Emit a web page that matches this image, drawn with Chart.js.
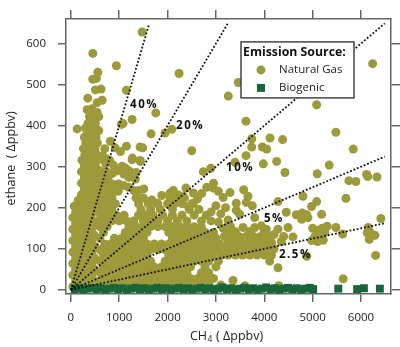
<!DOCTYPE html>
<html><head><meta charset="utf-8">
<script src="https://cdn.jsdelivr.net/npm/chart.js@4.4.1/dist/chart.umd.min.js"></script>
<style>html,body{margin:0;padding:0;background:#fff;}canvas{display:block;}</style>
</head><body>
<canvas id="c" width="400" height="347"></canvas>
<script>
// ---------------- data ----------------
const xTickValues = [0, 1000, 2000, 3000, 4000, 5000, 6000];
const yTickValues = [0, 100, 200, 300, 400, 500, 600];

const seriesNames = ['Natural Gas', 'Biogenic'];

// Natural gas: dense column near the origin
const ngColumn = [
[40,8],[170,8],[300,8],[430,8],[100,22],[230,22],[360,22],[490,22],
[40,36],[170,36],[300,36],[430,36],[100,50],[230,50],[360,50],[490,50],
[40,64],[170,64],[300,64],[430,64],[100,78],[230,78],[360,78],[490,78],
[40,92],[170,92],[300,92],[430,92],[100,106],[230,106],[360,106],[490,106],
[40,120],[170,120],[300,120],[430,120],[100,134],[230,134],[360,134],[480,134],
[40,148],[170,148],[300,148],[430,148],[100,162],[230,162],[360,162],[470,162],
[40,176],[170,176],[300,176],[420,176],[100,190],[230,190],[360,190],[470,190],
[70,204],[180,204],[300,204],[420,204],[150,218],[260,218],[380,218],[490,218],
[220,232],[340,232],[460,232],[280,246],[400,246],[510,246],
[220,260],[340,260],[460,260],[280,274],[400,274],[500,274],
[220,288],[340,288],[460,288],[280,302],[400,302],[510,302],
[230,316],[350,316],[470,316],[290,330],[410,330],[530,330],
[260,344],[380,344],[500,344],[310,358],[430,358],[550,358],
[280,372],[400,372],[520,372],[350,384],[470,384]
];
// Natural gas: scattered high-ethane points
const ngUpper = [
[454,576],[942,546],[558,530],[454,513],[529,515],[509,487],[626,489],[1149,486],[351,467],
[543,456],[647,462],[337,439],[440,441],[543,432],[496,419],[578,422],[385,422],[130,392],
[357,406],[509,406],[302,394],[440,392],[578,388],[1046,403],[1080,405],[1267,415],[1473,628],
[1756,431],[1659,380],[1948,382],[2087,391],[2238,527],[2500,339],[818,362],[702,344],[1149,350],
[1432,348],[1487,346],[1025,337],[1275,321],[743,319],[915,346],[1122,297],[1211,289],[1349,286],[1432,315]
];
// Natural gas: middle wedge
const ngMid = [
[560,168],[700,168],[850,168],[1000,168],[1150,168],[1300,168],[1500,168],[1650,168],[1800,168],[2000,168],[2200,168],[2400,168],[2700,168],[2900,168],
[620,182],[780,182],[950,182],[1100,182],[1400,182],[1550,182],[1700,182],[1900,182],[2100,182],[2300,182],[2550,182],[2800,182],
[560,196],[700,196],[850,196],[1450,196],[1650,196],[1850,196],[2100,196],[2450,196],[2650,196],
[620,210],[760,210],[920,210],[1400,210],[1600,210],[1800,210],[2000,210],[2150,210],[2300,210],[2500,210],
[600,224],[700,224],[850,224],[1350,224],[1500,224],[2050,224],[2200,224],[2350,224],
[682,254],[750,250],[818,242],[888,239],[992,258],[1095,254],[1198,250],[1302,242],[1405,242],[1508,246],
[1060,301],[1163,293],[1095,282],[1198,274],[1335,270],[1267,317],[1438,313],[620,290],[800,280],[700,270],
[580,318],[660,326],[720,308],[800,316],[880,304],[580,278],[660,282],[740,288],[860,284],[950,290],
[620,262],[700,248],[800,262],[900,256],[980,240],[560,250],[640,238],[560,232],[660,212],[780,234],
[2120,242],[2052,236],[2223,231],[2533,236],[2707,235],[2810,250],[2946,248],[2740,288],[2893,296],
[2155,220],[2326,227],[1673,219],[1777,211],[2533,211],[2430,203],[1880,230],[2380,248],[2620,222],
[2950,260],[3050,240],[3150,225],[3000,205],[3200,200],[3100,185],[2900,190],[3250,170],[3050,165],[3150,150],[3300,155]
];
// Natural gas: low-ratio band
const ngBand = [
[600,14],[750,14],[900,14],[1050,14],[1200,14],[1350,14],[1500,14],[1650,14],[1800,14],[1950,14],[2100,14],[2250,14],[2400,14],[2550,14],[2700,14],[2850,14],
[675,28],[825,28],[975,28],[1125,28],[1275,28],[1425,28],[1575,28],[1725,28],[1875,28],[2025,28],[2175,28],[2325,28],[2475,28],[2625,28],[2775,28],[2950,28],
[600,42],[750,42],[900,42],[1050,42],[1200,42],[1350,42],[1500,42],[1650,42],[1800,42],[1950,42],[2100,42],[2250,42],[2400,42],[2700,42],[2850,42],
[675,56],[825,56],[975,56],[1125,56],[1275,56],[1425,56],[1575,56],[1725,56],[1875,56],[2025,56],[2175,56],[2325,56],[2475,56],[2775,56],[3000,56],
[600,70],[750,70],[900,70],[1050,70],[1200,70],[1350,70],[1500,70],[1650,70],[1950,70],[2100,70],[2250,70],[2400,70],[2550,70],[2700,70],[2850,70],[3050,70],
[675,84],[825,84],[975,84],[1125,84],[1275,84],[1425,84],[1575,84],[2025,84],[2175,84],[2325,84],[2475,84],[2625,84],[2775,84],[2925,84],[3100,84],
[600,98],[750,98],[900,98],[1050,98],[1200,98],[1350,98],[1500,98],[1650,98],[1800,98],[1950,98],[2100,98],[2250,98],[2400,98],[2550,98],[2700,98],[2850,98],[3000,98],[3150,98],
[700,112],[825,112],[975,112],[1125,112],[1275,112],[1425,112],[1575,112],[1725,112],[1875,112],[2025,112],[2175,112],[2325,112],[2475,112],[2625,112],[2775,112],[2925,112],[3075,112],
[600,126],[900,126],[1050,126],[1200,126],[1350,126],[1500,126],[2100,126],[2250,126],[2400,126],[2550,126],[2700,126],[2850,126],[3000,126],
[675,140],[1125,140],[1275,140],[1425,140],[1575,140],[2025,140],[2175,140],[2325,140],[2475,140],[2625,140],[2775,140],[2950,140],
[600,154],[750,154],[1200,154],[1350,154],[1500,154],[1650,154],[1800,154],[1950,154],[2100,154],[2250,154],[2400,154],[2550,154],[2700,154]
];
// Natural gas: high-methane points
const ngRight = [
[3250,85],[3400,85],[3550,85],[3700,85],[3850,85],[4000,85],[4150,85],
[3175,100],[3325,100],[3475,100],[3625,100],[3775,100],[3925,100],[4075,100],[4200,100],
[3250,115],[3400,115],[3550,115],[3700,115],[3850,115],[4000,115],[4150,115],
[3175,130],[3325,130],[3475,130],[3625,130],[3775,130],[3925,130],[4075,130],
[3250,142],[3400,142],[3700,142],[4000,142],
[3463,505],[3256,472],[6240,551],[5083,451],[3622,411],[5481,384],[3740,368],[4118,370],[4380,366],
[3740,348],[3960,348],[4050,343],[5840,343],[3622,327],[3395,311],[3980,307],[4256,313],[5343,304],
[4428,286],[5095,283],[6116,281],[6140,276],[6330,275],[5750,266],[5894,264],[5688,223],[4979,203],
[5083,215],[5186,184],[6411,174],[5481,152],[5620,136],[6128,139],[6170,123],[6287,133],[6302,84],
[5632,27],[5219,121],[3574,244],[3663,228],[3421,211],[3628,213],[3752,205],[4283,215],[4800,228],
[4455,189],[4661,183],[4785,187],[4903,176],[3421,194],[3491,184],[3802,176],[3560,152],[3802,152],
[3938,156],[4041,148],[4283,148],[4490,152],[4593,129],[4112,70],[4283,54],[3353,23],[3291,237],
[4876,183],[4773,172],[4876,82],[6149,152],[6184,141],[5000,150],[5100,145],[5200,150],[5050,130],
[5150,128],[5250,140],[4980,120],[5100,118],[5300,155],[4200,135],[4400,130],[4350,118],
[3100,12],[3600,10],[4300,10]
];
// Biogenic
const biogenic = [
[80,2],[170,4],[260,1],[350,3],[440,5],[530,2],[620,4],[710,1],[800,3],[890,5],[980,2],[1070,4],
[1160,1],[1250,3],[1340,5],[1430,2],[1520,4],[1610,1],[1700,3],[1790,5],[1880,2],[1970,4],[2060,1],
[2150,3],[2240,5],[2330,2],[2420,4],[2510,1],[2600,3],[2690,5],[2780,2],[2870,4],[2960,1],[3050,3],
[3140,6],[3230,2],[3320,4],[3410,1],[3500,3],[3590,5],[3680,2],[3770,4],[3860,1],[3950,3],[4040,6],
[4130,2],[4220,4],[4310,1],[4400,3],[4490,5],[4580,2],[4670,4],[4760,1],[4850,3],[4940,5],[5010,2],
[5530,3],[5920,2],[6060,4],[6390,3]
];

// ethane / methane guide ratios
const guideRatios = [0.4, 0.2, 0.1, 0.05, 0.025];
const guideEndX = [1620, 3240, 6490, 6490, 6490];
const guideLabels = ['40%', '20%', '10%', '5%', '2.5%'];
const guideLabelAnchors = [[1225,452],[2176,401],[3210,298],[3994,174],[4304,86]];

// ---------------- chart ----------------
const OLIVE = '#9d9a3b';
const GREEN = '#18673a';
const AXIS = '#666';
const FONT = '"Open Sans", "Noto Sans", sans-serif';

const toPts = arr => arr.map(([x, y]) => ({x, y}));
const naturalGas = toPts([...ngColumn, ...ngUpper, ...ngMid, ...ngBand, ...ngRight]);

const guideSets = guideRatios.map((r, i) => ({
  label: guideLabels[i],
  data: [{x: 0, y: 0}, {x: guideEndX[i], y: guideEndX[i] * r}],
  showLine: true, fill: false, pointRadius: 0,
  borderColor: '#111', borderWidth: 1.8, borderDash: [1.8, 1.9],
  order: 0, xAxisID: 'x', yAxisID: 'y'
}));

const overlay = {
  id: 'overlay',
  afterDraw(chart) {
    const {ctx, chartArea: a, scales: {x, y}} = chart;
    ctx.save();
    ctx.font = 'bold 11.5px ' + FONT;
    ctx.fillStyle = '#111';
    ctx.textBaseline = 'middle';
    ctx.textAlign = 'left';
    try { ctx.letterSpacing = '1.5px'; } catch (e) {}
    guideLabels.forEach((t, i) => {
      ctx.fillText(t, x.getPixelForValue(guideLabelAnchors[i][0]), y.getPixelForValue(guideLabelAnchors[i][1]));
    });
    try { ctx.letterSpacing = '0px'; } catch (e) {}
    // legend
    const lx = a.left + 175, ly = a.top + 23, lw = 113, lh = 56;
    ctx.fillStyle = '#fff';
    ctx.fillRect(lx, ly, lw, lh);
    ctx.strokeStyle = '#444';
    ctx.lineWidth = 1.5;
    ctx.strokeRect(lx, ly, lw, lh);
    ctx.fillStyle = '#111';
    ctx.font = 'bold 12.3px ' + FONT;
    ctx.fillText('Emission Source:', lx + 2, ly + 11);
    ctx.font = '11.5px ' + FONT;
    ctx.fillStyle = OLIVE;
    ctx.beginPath(); ctx.arc(lx + 20, ly + 28, 4.5, 0, Math.PI * 2); ctx.fill();
    ctx.fillStyle = GREEN;
    ctx.fillRect(lx + 16, ly + 42, 8, 8);
    ctx.fillStyle = '#222';
    ctx.fillText(seriesNames[0], lx + 38, ly + 28);
    ctx.fillText(seriesNames[1], lx + 38, ly + 46);
    // y title
    ctx.save();
    ctx.translate(11, (a.top + a.bottom) / 2 + 2);
    ctx.rotate(-Math.PI / 2);
    ctx.textAlign = 'center';
    ctx.font = '12.5px ' + FONT;
    ctx.fillText('ethane  ( \u0394ppbv)', 0, 0);
    ctx.restore();
    // x title with subscript
    ctx.font = '12.5px ' + FONT;
    const p1 = 'CH', p3 = ' ( \u0394ppbv)';
    const w1 = ctx.measureText(p1).width, w3 = ctx.measureText(p3).width;
    ctx.font = '8.5px ' + FONT;
    const w2 = ctx.measureText('4').width + 1;
    const tot = w1 + w2 + w3;
    let cx = (a.left + a.right) / 2 - tot / 2 - 2;
    const cy = 336;
    ctx.textAlign = 'left';
    ctx.font = '12.5px ' + FONT;
    ctx.fillText(p1, cx, cy);
    ctx.font = '8.5px ' + FONT;
    ctx.fillText('4', cx + w1 + 0.5, cy + 4);
    ctx.font = '12.5px ' + FONT;
    ctx.fillText(p3, cx + w1 + w2, cy);
    ctx.restore();
  }
};

const axisCommon = (pos) => ({
  type: 'linear',
  position: pos,
  grid: {drawOnChartArea: false, drawTicks: true, tickLength: 8, color: AXIS, lineWidth: 1.5},
  border: {display: true, color: AXIS, width: 1.5}
});
const plain = v => String(v);

new Chart(document.getElementById('c'), {
  type: 'scatter',
  data: {
    datasets: [
      ...guideSets,
      {label: seriesNames[1], data: toPts(biogenic), pointStyle: 'rect', pointRadius: 5.6, pointHoverRadius: 5.6,
       backgroundColor: GREEN, borderColor: GREEN, pointBorderWidth: 0, order: 1, xAxisID: 'x', yAxisID: 'y'},
      {label: seriesNames[0], data: naturalGas, pointStyle: 'circle', pointRadius: 4.5, pointHoverRadius: 4.5,
       backgroundColor: OLIVE, borderColor: OLIVE, pointBorderWidth: 0, order: 2, xAxisID: 'x', yAxisID: 'y'}
    ]
  },
  options: {
    responsive: false, animation: false, events: [],
    layout: {padding: 0},
    plugins: {legend: {display: false}, tooltip: {enabled: false}},
    scales: {
      x: Object.assign(axisCommon('bottom'), {
        min: -100, max: 6620,
        afterBuildTicks: s => { s.ticks = xTickValues.map(v => ({value: v})); },
        afterFit: s => { s.height = 53; },
        ticks: {font: {family: FONT, size: 11.5}, color: '#222', padding: 9, maxRotation: 0, autoSkip: false, callback: plain}
      }),
      y: Object.assign(axisCommon('left'), {
        min: -10, max: 660,
        afterBuildTicks: s => { s.ticks = yTickValues.map(v => ({value: v})); },
        afterFit: s => { s.width = 66; },
        ticks: {font: {family: FONT, size: 11.5}, color: '#222', padding: 12, autoSkip: false, callback: plain}
      }),
      x2: Object.assign(axisCommon('top'), {
        min: -100, max: 6620,
        grid: {drawOnChartArea: false, drawTicks: true, tickLength: 9, color: AXIS, lineWidth: 1.5},
        afterBuildTicks: s => { s.ticks = xTickValues.map(v => ({value: v})); },
        afterFit: s => { s.height = 10; },
        ticks: {display: false}
      }),
      y2: Object.assign(axisCommon('right'), {
        min: -10, max: 660,
        grid: {drawOnChartArea: false, drawTicks: true, tickLength: 9, color: AXIS, lineWidth: 1.5},
        afterBuildTicks: s => { s.ticks = yTickValues.map(v => ({value: v})); },
        afterFit: s => { s.width = 9; },
        ticks: {display: false}
      })
    }
  },
  plugins: [overlay]
});
</script>
</body></html>
